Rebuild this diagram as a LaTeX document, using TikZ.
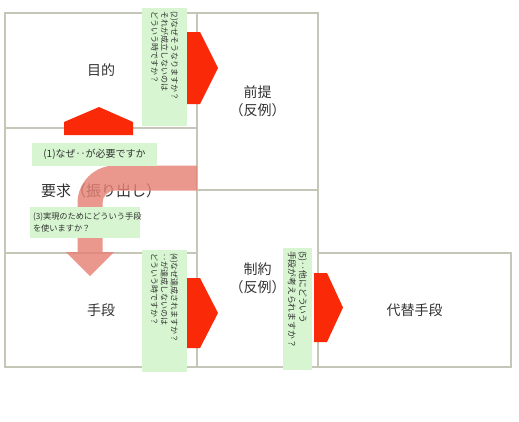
\documentclass[tikz,border=0pt]{standalone}
\usepackage{fontspec}
\setmainfont{Noto Sans CJK JP}
\definecolor{boxline}{RGB}{198,198,184}
\definecolor{hintgreen}{RGB}{214,245,208}
\definecolor{arrowred}{RGB}{250,42,8}
\definecolor{bandpink}{RGB}{229,128,116}
\definecolor{textgray}{RGB}{50,50,50}
\begin{document}
\begin{tikzpicture}[x=1pt,y=-1pt,
    area/.style 2 args={draw=boxline, line width=1.3pt, minimum width=#1, minimum height=#2,
        inner sep=0pt, align=center, text=textgray, font=\fontsize{14}{18}\selectfont},
    hint/.style={fill=hintgreen, inner sep=3pt, text=textgray},
    redtip/.style={fill=arrowred},
    band/.style={fill=bandpink, fill opacity=0.82}]
    \useasboundingbox (0,0) rectangle (519,421);
    % Boxes
    \node[area={192pt}{115pt}] (mokuteki) at (101,70.5) {目的};
    \node[area={192pt}{125pt}, font=\fontsize{15}{18}\selectfont] (yokyu) at (101,190.5) {要求（振り出し）};
    \node[area={192pt}{114pt}] (shudan) at (101,310) {手段};
    \node[area={121pt}{177pt}] (zentei) at (257.5,101.5) {前提\\（反例）};
    \node[area={121pt}{177pt}] (seiyaku) at (257.5,278.5) {制約\\（反例）};
    \node[area={193pt}{114pt}] (daitai) at (414.5,310) {代替手段};
    % Curved band, requirement down to means
    \fill[band] (197,165.5) -- (115,165.5) arc[start angle=270, end angle=180, radius=37.5]
        -- (77.5,252) -- (66,252) -- (90,276) -- (114,252) -- (102.5,252) -- (102.5,203)
        arc[start angle=180, end angle=270, radius=12.5] -- (197,190.5) -- cycle;
    % Red arrows
    \fill[redtip] (64,135) -- (64,122) -- (99,107) -- (133,122) -- (133,135) -- cycle;
    \fill[redtip] (187,32) -- (200,32) -- (218,68) -- (200,104) -- (187,104) -- cycle;
    \fill[redtip] (187,278) -- (200,278) -- (218,313) -- (200,348) -- (187,348) -- cycle;
    \fill[redtip] (314,273) -- (327,273) -- (343,307.5) -- (327,342) -- (314,342) -- cycle;
    % Questions
    \node[hint, minimum width=125pt, minimum height=23pt, font=\fontsize{10}{11}\selectfont]
        (q1) at (94.5,154.5) {(1)なぜ‥が必要ですか};
    \node[hint, rotate=-90, minimum width=118pt, minimum height=45pt, align=left, text width=112pt,
        font=\fontsize{8}{10}\selectfont]
        (q2) at (164.5,67) {(2)なぜそうなりますか？\\それが成立しないのは\\どういう時ですか？};
    \node[hint, minimum width=110pt, minimum height=31pt, align=left, text width=104pt,
        font=\fontsize{8.2}{12}\selectfont]
        (q3) at (85,222.5) {(3)実現のためにどういう手段\\を使いますか？};
    \node[hint, rotate=-90, minimum width=122pt, minimum height=45pt, align=left, text width=116pt,
        font=\fontsize{8}{10}\selectfont]
        (q4) at (164.5,311) {(4)なぜ達成されますか？\\‥が達成しないのは\\どういう時ですか？};
    \node[hint, rotate=-90, minimum width=122pt, minimum height=29pt, align=left, text width=116pt,
        inner sep=2pt, font=\fontsize{8.8}{11}\selectfont]
        (q5) at (297.5,309) {(5)‥他にどういう\\手段が考えられますか？};
\end{tikzpicture}
\end{document}
